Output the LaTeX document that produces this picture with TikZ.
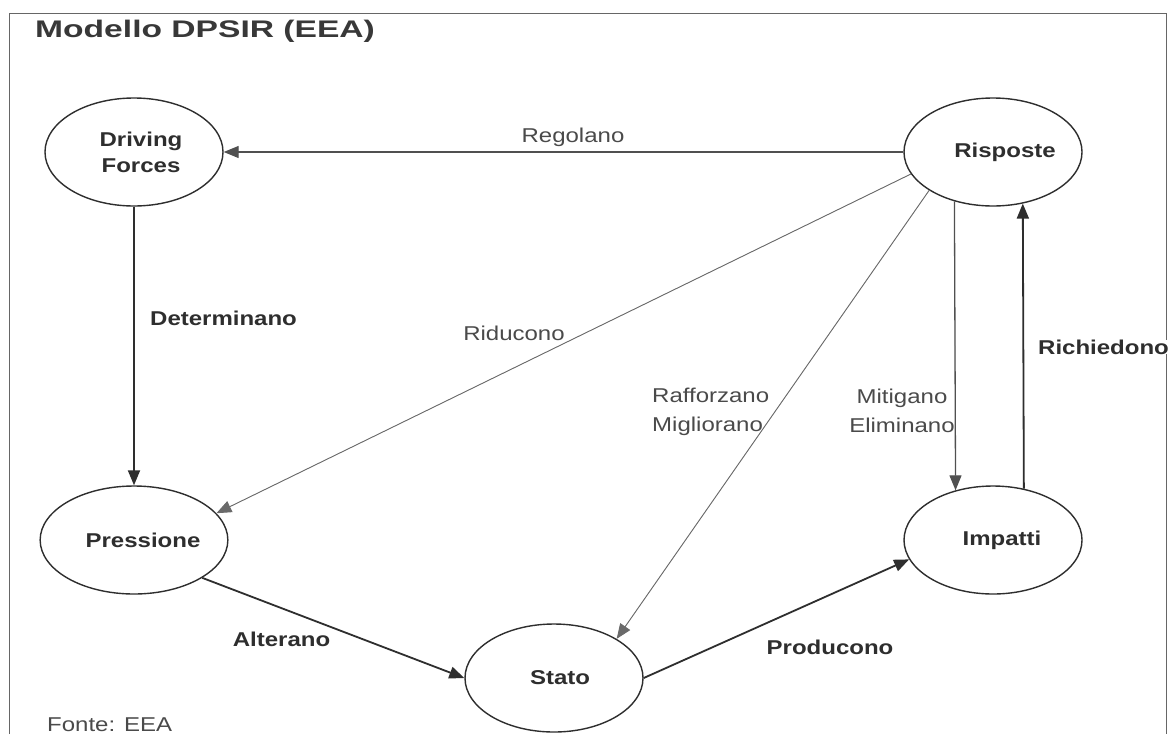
\documentclass[tikz,border=0pt]{standalone}
\usepackage{fontspec}
\setmainfont{Liberation Sans}[FakeStretch=1.2]
\newfontfamily\titlefont{Liberation Sans}[FakeStretch=1.4]
\usetikzlibrary{shapes.geometric,arrows.meta}
\definecolor{ink}{HTML}{2E2E2E}
\definecolor{thinc}{HTML}{6A6A6A}
\definecolor{midc}{HTML}{505050}
\definecolor{framec}{HTML}{666666}
\definecolor{labc}{HTML}{4A4A4A}
\newcommand{\sft}[1]{\hspace*{#1}}
\begin{document}
\begin{tikzpicture}[x=1pt,y=-1pt,
  ell/.style={ellipse,draw=ink,line width=1.4pt,minimum width=178pt,minimum height=108pt,
    inner sep=0pt,align=center,text=ink,font=\bfseries\fontsize{20}{26}\selectfont},
  tip/.style={-{Triangle[length=15pt,width=12pt]}},
  thickarr/.style={tip,draw=ink,fill=ink,line width=1.8pt},
  midarr/.style={tip,draw=midc,fill=midc,line width=1.3pt},
  thinarr/.style={tip,draw=thinc,fill=thinc,line width=0.9pt},
  blab/.style={text=ink,font=\bfseries\fontsize{20}{24}\selectfont,inner sep=0pt},
  rlab/.style={text=labc,font=\fontsize{20}{28.5}\selectfont,inner sep=0pt},
]
\useasboundingbox (0,0) rectangle (1174,734);
\fill[white] (0,0) rectangle (1174,734);
\draw[framec,line width=1pt] (9,734) -- (9,13) -- (1166,13) -- (1166,734);

\node[anchor=base west,inner sep=0pt,text=ink!95!white,font=\titlefont\bfseries\fontsize{24}{28}\selectfont] (title) at (35,37) {Modello DPSIR (EEA)};

\node[ell] (df)  at (134,152) {\sft{14pt}Driving\\\sft{14pt}Forces};
\node[ell] (ris) at (993,152) {\sft{24pt}Risposte};
\node[ell] (pre) at (134,540) {\sft{18pt}Pressione};
\node[ell] (imp) at (993,540) {\sft{18pt}Impatti};
\node[ell] (sta) at (554,678) {\sft{12pt}Stato};

\draw[midarr]   (ris) -- (df);
\draw[thickarr] (df) -- (pre);
\draw[thinarr]  (ris.195.4) -- (pre.18.2);
\draw[thinarr]  (ris.211.8) -- (sta.32.4);
\draw[midarr]   (ris.232.9) -- (imp.127.1);
\draw[thickarr] (imp.59.5) -- (ris.300.5);
\draw[thickarr] (pre.-29.3) -- (sta.180);
\draw[thickarr] (sta.0) -- (imp.193.2);

\node[rlab,anchor=base] (lreg) at (573,142) {Regolano};
\node[blab,anchor=base west] (ldet) at (150,325) {Determinano};
\node[rlab,anchor=base] (lrid) at (514,340) {Riducono};
\node[rlab,anchor=west,align=left] (lraf) at (652,412) {Rafforzano\\Migliorano};
\node[rlab,anchor=center,align=center] (lmit) at (902,411) {Mitigano\\Eliminano};
\node[blab,anchor=base west,fill=white] (lric) at (1038,354) {Richiedono};
\node[blab,anchor=base] (lalt) at (281.5,646) {Alterano};
\node[blab,anchor=base] (lpro) at (830,654) {Producono};
\node[rlab,anchor=base west] (fonte) at (47,731) {Fonte: EEA};
\end{tikzpicture}
\end{document}
